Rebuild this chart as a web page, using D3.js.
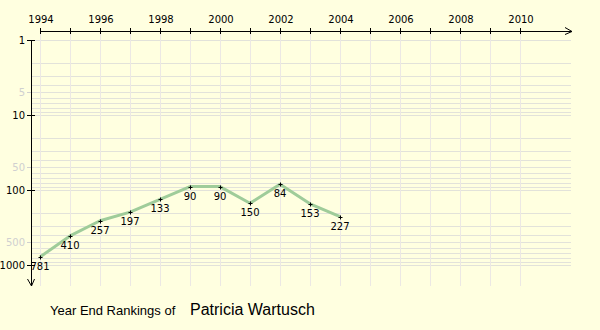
<!DOCTYPE html>
<html>
<head>
<meta charset="utf-8">
<script src="https://cdn.jsdelivr.net/npm/d3@7"></script>
<style>
  body { margin: 0; background: #ffffe0; }
  svg { display: block; }
</style>
</head>
<body>
<script>
// Data
const years = [1994, 1995, 1996, 1997, 1998, 1999, 2000, 2001, 2002, 2003, 2004];
const ranks = [781, 410, 257, 197, 133, 90, 90, 150, 84, 153, 227];
const axisYears = d3.range(1994, 2011);
const yearLabels = [1994, 1996, 1998, 2000, 2002, 2004, 2006, 2008, 2010];
const majorRanks = [1, 10, 100, 1000];
const minorRanks = [5, 50, 500];
const playerName = 'Patricia Wartusch';

let width = 600, height = 330;

let svg = d3.select('body')
    .append('svg')
    .attr('width', width)
    .attr('height', height)
    .style('background', '#ffffe0');

// Scales
let xScale = d3.scaleLinear().domain([1994, 2010]).range([40, 520]);
let yScale = d3.scaleLog().domain([1, 1000]).range([40, 265]);

const axisX = 31, axisY = 31;
const font = 'DejaVu Sans, Verdana, sans-serif';

// Horizontal grid (log)
let gridVals = [];
for (let d = 1; d < 1000; d *= 10) {
    for (let k = 1; k < 10; k++) gridVals.push(d * k);
}
gridVals.push(1000);

svg.append('g')
    .selectAll('line')
    .data(gridVals)
    .enter()
    .append('line')
    .attr('x1', axisX)
    .attr('x2', 571)
    .attr('y1', d => Math.round(yScale(d)) + 0.5)
    .attr('y2', d => Math.round(yScale(d)) + 0.5)
    .attr('stroke', '#e2e2da')
    .attr('stroke-width', 1);

// Vertical grid
svg.append('g')
    .selectAll('line')
    .data(axisYears)
    .enter()
    .append('line')
    .attr('x1', d => xScale(d) + 0.5)
    .attr('x2', d => xScale(d) + 0.5)
    .attr('y1', axisY)
    .attr('y2', 286)
    .attr('stroke', '#ece8e4')
    .attr('stroke-width', 1);

// Top x axis
let xAxis = svg.append('g');
xAxis.append('line')
    .attr('x1', 40).attr('x2', 572)
    .attr('y1', axisY + 0.5).attr('y2', axisY + 0.5)
    .attr('stroke', 'black');
xAxis.append('path')
    .attr('d', `M565,${axisY - 3.5}L572,${axisY + 0.5}L565,${axisY + 3.5}`)
    .attr('fill', 'none')
    .attr('stroke', 'black');
xAxis.selectAll('.tick')
    .data(axisYears)
    .enter()
    .append('line')
    .attr('x1', d => xScale(d) + 0.5)
    .attr('x2', d => xScale(d) + 0.5)
    .attr('y1', axisY - 3)
    .attr('y2', axisY + 3)
    .attr('stroke', 'black');
xAxis.selectAll('text')
    .data(yearLabels)
    .enter()
    .append('text')
    .attr('x', d => xScale(d) + 1)
    .attr('y', 23)
    .attr('text-anchor', 'middle')
    .style('font-family', font)
    .style('font-size', '10px')
    .text(d => d);

// Left y axis
let yAxis = svg.append('g');
yAxis.append('line')
    .attr('x1', axisX + 0.5).attr('x2', axisX + 0.5)
    .attr('y1', 40).attr('y2', 286)
    .attr('stroke', 'black');
yAxis.append('path')
    .attr('d', `M${axisX - 3.5},279L${axisX + 0.5},286L${axisX + 3.5},279`)
    .attr('fill', 'none')
    .attr('stroke', 'black');
yAxis.selectAll('.major')
    .data(majorRanks)
    .enter()
    .append('line')
    .attr('x1', axisX - 4)
    .attr('x2', axisX + 4)
    .attr('y1', d => Math.round(yScale(d)) + 0.5)
    .attr('y2', d => Math.round(yScale(d)) + 0.5)
    .attr('stroke', 'black');
yAxis.selectAll('.majorLabel')
    .data(majorRanks)
    .enter()
    .append('text')
    .attr('x', 25)
    .attr('y', d => yScale(d) + 4)
    .attr('text-anchor', 'end')
    .style('font-family', font)
    .style('font-size', '10px')
    .text(d => d);
yAxis.selectAll('.minor')
    .data(minorRanks)
    .enter()
    .append('line')
    .attr('x1', axisX - 4)
    .attr('x2', axisX)
    .attr('y1', d => Math.round(yScale(d)) + 0.5)
    .attr('y2', d => Math.round(yScale(d)) + 0.5)
    .attr('stroke', '#d0d0d0');
yAxis.selectAll('.minorLabel')
    .data(minorRanks)
    .enter()
    .append('text')
    .attr('x', 25)
    .attr('y', d => yScale(d) + 4)
    .attr('text-anchor', 'end')
    .style('font-family', font)
    .style('font-size', '10px')
    .style('fill', '#d0d0d0')
    .text(d => d);

// Ranking line
let points = years.map((y, i) => ({ year: y, rank: ranks[i] }));

svg.append('path')
    .datum(points)
    .attr('d', d3.line().x(d => xScale(d.year)).y(d => yScale(d.rank)))
    .attr('fill', 'none')
    .attr('stroke', '#9fcc9a')
    .attr('stroke-width', 3)
    .attr('stroke-linejoin', 'round');

// Point markers
svg.append('g')
    .selectAll('path')
    .data(points)
    .enter()
    .append('path')
    .attr('d', d => {
        let px = Math.round(xScale(d.year)) + 0.5, py = Math.round(yScale(d.rank)) + 0.5;
        return `M${px - 2},${py}H${px + 2}M${px},${py - 2}V${py + 2}`;
    })
    .attr('stroke', 'black')
    .attr('stroke-width', 1);

// Point labels
svg.append('g')
    .selectAll('text')
    .data(points)
    .enter()
    .append('text')
    .attr('x', d => xScale(d.year))
    .attr('y', d => yScale(d.rank) + 13)
    .attr('text-anchor', 'middle')
    .style('font-family', font)
    .style('font-size', '10px')
    .text(d => d.rank);

// Title
svg.append('text')
    .attr('x', 50)
    .attr('y', 315)
    .style('font-family', 'Liberation Sans, Arial, sans-serif')
    .style('font-size', '13px')
    .text('Year End Rankings of');
svg.append('text')
    .attr('x', 190)
    .attr('y', 315)
    .style('font-family', 'Liberation Sans, Arial, sans-serif')
    .style('font-size', '16px')
    .text(playerName);
</script>
</body>
</html>
